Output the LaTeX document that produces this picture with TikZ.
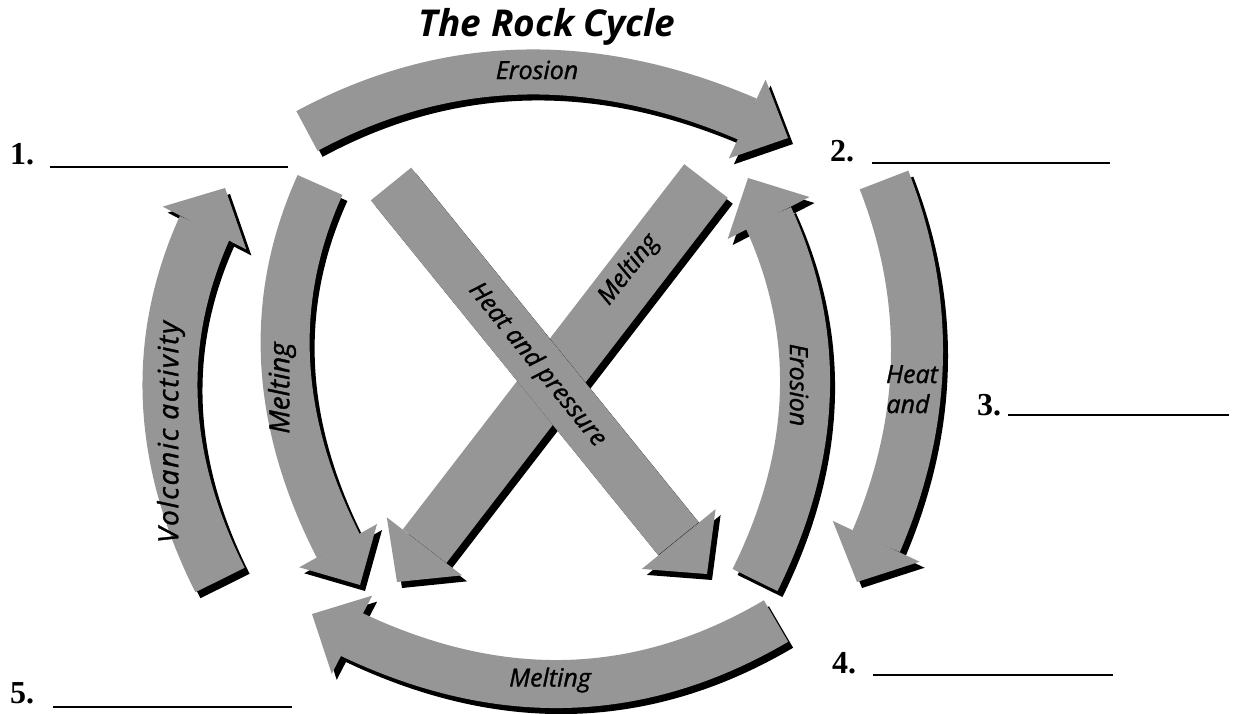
\documentclass[tikz,border=0pt]{standalone}
\usepackage{fontspec}
\setmainfont{Liberation Serif}
\newfontfamily\lblfont{Open Sans}[ItalicFeatures={FakeBold=1.2}]
\usetikzlibrary{arrows.meta,bending,calc}
\definecolor{rockgray}{RGB}{150,150,150}
% #1 start, #2 point half way along, #3 tip, #4 band width, #5 head width
\newcommand\rockarrow[5]{%
  \draw[line width=#4, black, transform canvas={shift={(5pt,-6pt)}},
        -{Triangle[width=#5, length=45pt, line width=0pt, flex]}]
    (#1) .. controls ($1.33333*(#2)-0.33333*(#3)$) and ($1.33333*(#2)-0.33333*(#1)$) .. (#3);
  \draw[line width=#4, rockgray,
        -{Triangle[width=#5, length=45pt, line width=0pt, flex]}]
    (#1) .. controls ($1.33333*(#2)-0.33333*(#3)$) and ($1.33333*(#2)-0.33333*(#1)$) .. (#3);
}
\tikzset{
  arrowlab/.style={font=\lblfont\itshape\fontsize{25}{28}\selectfont, inner sep=0pt},
  bigarrowlab/.style={font=\lblfont\itshape\fontsize{28}{30}\selectfont, inner sep=0pt},
  widearrowlab/.style={font=\lblfont\itshape\fontsize{28}{30}\selectfont\addfontfeature{LetterSpace=6}, inner sep=0pt},
  numlab/.style={font=\bfseries\fontsize{32}{36}\selectfont, inner sep=0pt, anchor=base west},
  blank/.style={line width=1.6pt},
  titlelab/.style={font=\lblfont\bfseries\itshape\fontsize{37}{40}\selectfont, inner sep=0pt, anchor=base}
}
\begin{document}
\begin{tikzpicture}[x=1pt,y=1pt]
\useasboundingbox (0,0) rectangle (1236,-714);
\fill[white] (0,0) rectangle (1236,-714);

\node[titlelab] (title) at (547,-37) {The Rock Cycle};

% top erosion
\rockarrow{307,-131}{540,-72}{788,-138}{45pt}{87pt}
\node[arrowlab] (eroTop) at (537,-70) {Erosion};

% volcanic activity
\rockarrow{220,-580}{170,-380}{225,-188}{55pt}{94pt}
\node[widearrowlab, rotate=90] (volc) at (171,-432) {Volcanic activity};

% left melting
\rockarrow{320,-185}{287,-380}{360,-585}{49pt}{89pt}
\node[bigarrowlab, rotate=90] (meltL) at (282,-388) {Melting};

% X arrow B (melting)
\rockarrow{706,-181}{551.5,-381.5}{397,-582}{55pt}{95pt}
\node[arrowlab, rotate=52] (meltX) at (629,-270) {Melting};

% X arrow A (heat and pressure)
\rockarrow{391,-184}{549,-379}{707,-574}{52pt}{95pt}
\node[arrowlab, rotate=-51] (hpX) at (537,-365) {Heat and pressure};

% right erosion
\rockarrow{755,-580}{805,-375}{748,-178}{50pt}{92pt}
\node[arrowlab, rotate=-90] (eroR) at (799,-385) {Erosion};

% right heat and pressure
\rockarrow{884,-180}{916,-380}{857,-582}{52pt}{96pt}
\node[arrowlab, anchor=base] (heatR) at (912,-383) {Heat};
\node[arrowlab, anchor=base] (andR) at (908,-413) {and};

% bottom melting
\rockarrow{776,-621}{550,-684}{312,-614}{48pt}{88pt}
\node[arrowlab] (meltB) at (550,-680) {Melting};

% numbered blanks
\node[numlab] (n1) at (10,-165) {1.};
\draw[blank] (50,-167) -- (288,-167);
\node[numlab] (n2) at (830,-162) {2.};
\draw[blank] (872,-163) -- (1110,-163);
\node[numlab] (n3) at (977,-415) {3.};
\draw[blank] (1008,-415) -- (1229,-415);
\node[numlab] (n4) at (832,-673) {4.};
\draw[blank] (873,-675) -- (1113,-675);
\node[numlab] (n5) at (10,-703) {5.};
\draw[blank] (53,-707) -- (292,-707);
\end{tikzpicture}
\end{document}
